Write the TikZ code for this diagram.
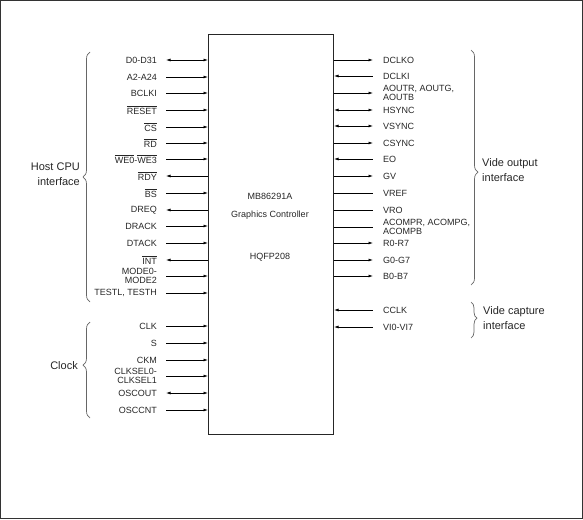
\documentclass[tikz,border=0pt]{standalone}
\usepackage{fontspec}
\setmainfont{Liberation Sans}
\usetikzlibrary{arrows.meta,decorations.pathreplacing}
\newcommand{\ovl}[1]{$\overline{\hbox{#1}}$}
\begin{document}
\begin{tikzpicture}[x=1pt,y=1pt,
  lbl/.style={font=\fontsize{9}{9}\selectfont, text=black!85, inner sep=0pt},
  big/.style={font=\fontsize{11}{15}\selectfont, text=black!85, inner sep=0pt},
  pin/.style={draw=black, line width=0.7pt},
  pinout/.style={pin,-{Latex[length=4.5pt,width=3pt]}},
  pinin/.style={pin,{Latex[length=4.5pt,width=3pt]}-},
  pinbi/.style={pin,{Latex[length=4.5pt,width=3pt]}-{Latex[length=4.5pt,width=3pt]}},
  pinno/.style={pin},
  bracestyle/.style={draw=black!60, line width=0.7pt, decorate, decoration={brace, amplitude=7pt}}
]
\useasboundingbox (0,0) rectangle (583,-519);
\draw[black!80, line width=0.8pt] (0.5,-0.5) rectangle (582.5,-518.5);
\node[draw=black!85, line width=1pt, minimum width=125pt, minimum height=400pt,
      anchor=north west, inner sep=0pt] (chip) at (208,-34) {};
\node[lbl] (t1) at (270,-196) {MB86291A};
\node[lbl] (t2) at (270,-215) {Graphics Controller};
\node[lbl] (t3) at (270,-257) {HQFP208};

\foreach \n/\y/\t/\s in {
  1/60/{D0-D31}/pinbi, 2/77/{A2-A24}/pinin, 3/93/{BCLKI}/pinin,
  4/110/{\ovl{RESET}}/pinin, 5/127/{\ovl{CS}}/pinin, 6/143/{\ovl{RD}}/pinin,
  7/159/{\ovl{WE0}-\ovl{WE3}}/pinin, 8/176/{\ovl{RDY}}/pinout, 9/193/{\ovl{BS}}/pinin,
  10/210/{DREQ}/pinout, 11/226/{DRACK}/pinin, 12/243/{DTACK}/pinin,
  13/260/{\ovl{INT}}/pinout, 14/276/{MODE0-\\MODE2}/pinin, 15/293/{TESTL, TESTH}/pinin,
  16/326/{CLK}/pinin, 17/343/{S}/pinin, 18/360/{CKM}/pinin,
  19/376/{CLKSEL0-\\CLKSEL1}/pinin, 20/393/{OSCOUT}/pinbi, 21/410/{OSCCNT}/pinin} {
  \coordinate (lc\n) at (chip.west |- 0,-\y);
  \coordinate (lf\n) at (166,-\y);
  \node[lbl, anchor=east, align=right] (ll\n) at (157,-\y) {\t};
  \draw[\s] (lc\n) -- (lf\n);
}

\foreach \n/\y/\t/\s in {
  1/60/{DCLKO}/pinout, 2/76/{DCLKI}/pinin, 3/93/{AOUTR, AOUTG,\\AOUTB}/pinout,
  4/110/{HSYNC}/pinbi, 5/126/{VSYNC}/pinbi, 6/143/{CSYNC}/pinout,
  7/159/{EO}/pinin, 8/176/{GV}/pinout, 9/193/{VREF}/pinno,
  10/210/{VRO}/pinno, 11/227/{ACOMPR, ACOMPG,\\ACOMPB}/pinno, 12/243/{R0-R7}/pinout,
  13/260/{G0-G7}/pinout, 14/276/{B0-B7}/pinout,
  15/310/{CCLK}/pinin, 16/327/{VI0-VI7}/pinin} {
  \coordinate (rc\n) at (chip.east |- 0,-\y);
  \coordinate (rf\n) at (373,-\y);
  \node[lbl, anchor=west, align=left] (rl\n) at (383,-\y) {\t};
  \draw[\s] (rc\n) -- (rf\n);
}

% braces
\coordinate (hb1) at (90,-302); \coordinate (hb2) at (90,-52);
\draw[bracestyle] (hb1) -- (hb2);
\node[big, anchor=east, align=right] (host) at (80,-174.5) {Host CPU\\interface};
\coordinate (cb1) at (90,-418); \coordinate (cb2) at (90,-322);
\draw[bracestyle, decoration={aspect=0.55}] (cb1) -- (cb2);
\node[big, anchor=east] (clock) at (78,-366) {Clock};
\coordinate (vb1) at (471,-50); \coordinate (vb2) at (471,-285);
\draw[bracestyle, decoration={aspect=0.52}] (vb1) -- (vb2);
\node[big, anchor=west, align=left] (vout) at (482,-170) {Vide output\\interface};
\coordinate (cc1) at (471,-302); \coordinate (cc2) at (471,-338);
\draw[bracestyle, decoration={amplitude=6pt, aspect=0.45}] (cc1) -- (cc2);
\node[big, anchor=west, align=left] (vcap) at (483,-318) {Vide capture\\interface};
\end{tikzpicture}
\end{document}
